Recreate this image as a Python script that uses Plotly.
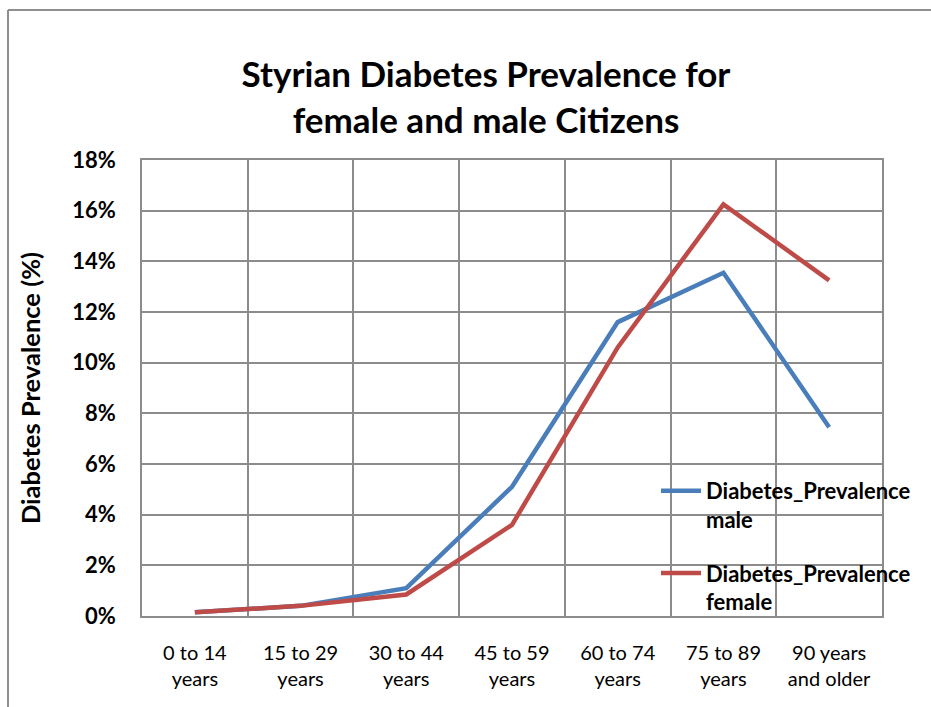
import plotly.graph_objects as go

# Age groups and diabetes prevalence (%) by sex
age_groups = ["0 to 14<br>years", "15 to 29<br>years", "30 to 44<br>years",
              "45 to 59<br>years", "60 to 74<br>years", "75 to 89<br>years",
              "90 years<br>and older"]
prevalence_male = [0.15, 0.4, 1.1, 5.1, 11.6, 13.55, 7.45]
prevalence_female = [0.15, 0.4, 0.85, 3.6, 10.6, 16.25, 13.25]
y_tick_values = [0, 2, 4, 6, 8, 10, 12, 14, 16, 18]
y_tick_labels = [f"<b>{v}%</b>" for v in y_tick_values]

W, H = 931, 707
L, R, T, B = 142, 49, 160, 91
pw, ph = W - L - R, H - T - B
FONT = "Lato, Arial, sans-serif"


def px_x(x):
    return (x - L) / pw


def px_y(y):
    return (H - B - y) / ph


grid = "#8c8c8c"
fig = go.Figure()
fig.add_trace(go.Scatter(
    x=age_groups, y=prevalence_male, mode="lines",
    name="<b>Diabetes_Prevalence<br>male</b>", legendgroup="m",
    line=dict(color="#4a7ebb", width=4.5),
))
fig.add_trace(go.Scatter(
    x=age_groups, y=prevalence_female, mode="lines",
    name="<b>Diabetes_Prevalence<br>female</b>", legendgroup="f",
    line=dict(color="#be4b48", width=4.5),
))

fig.update_layout(
    width=W, height=H,
    margin=dict(l=L, r=R, t=T, b=B, autoexpand=False),
    paper_bgcolor="white", plot_bgcolor="white",
    font=dict(family=FONT, color="black"),
    title=dict(
        text="<b>Styrian Diabetes Prevalence for<br>female and male Citizens</b>",
        x=486 / W, xref="container", xanchor="center",
        y=1 - 87 / H, yref="container", yanchor="middle",
        font=dict(size=35, family=FONT, color="black"),
    ),
    xaxis=dict(
        type="category", range=[-0.5, 6.5], tickson="boundaries",
        showgrid=True, gridcolor=grid, gridwidth=1.7,
        showline=True, linecolor=grid, linewidth=1.7, mirror=True,
        ticks="", ticklabelstandoff=18,
        tickfont=dict(size=20, family=FONT),
        fixedrange=True,
    ),
    yaxis=dict(
        range=[0, 18], tickvals=y_tick_values, ticktext=y_tick_labels,
        showgrid=True, gridcolor=grid, gridwidth=1.7,
        showline=True, linecolor=grid, linewidth=1.7, mirror=True,
        zeroline=False, ticks="", ticklabelstandoff=20,
        tickfont=dict(size=22, family=FONT),
        title=dict(text="<b>Diabetes Prevalence (%)</b>", standoff=24,
                   font=dict(size=25.5, family=FONT)),
        automargin=False,
    ),
    legend=dict(
        x=px_x(656), y=px_y(470), xanchor="left", yanchor="top",
        bgcolor="rgba(0,0,0,0)", valign="top", tracegroupgap=22,
        font=dict(size=22, family=FONT),
        itemwidth=40,
    ),
    showlegend=True,
)

# outer chart frame
fig.add_shape(type="line", xref="paper", yref="paper",
              x0=px_x(8), y0=px_y(10), x1=px_x(8), y1=px_y(H + 5),
              line=dict(color="#8e8e8e", width=2))
fig.add_shape(type="line", xref="paper", yref="paper",
              x0=px_x(8), y0=px_y(10), x1=px_x(W + 5), y1=px_y(10),
              line=dict(color="#8e8e8e", width=2))

fig.write_html("out.html")
